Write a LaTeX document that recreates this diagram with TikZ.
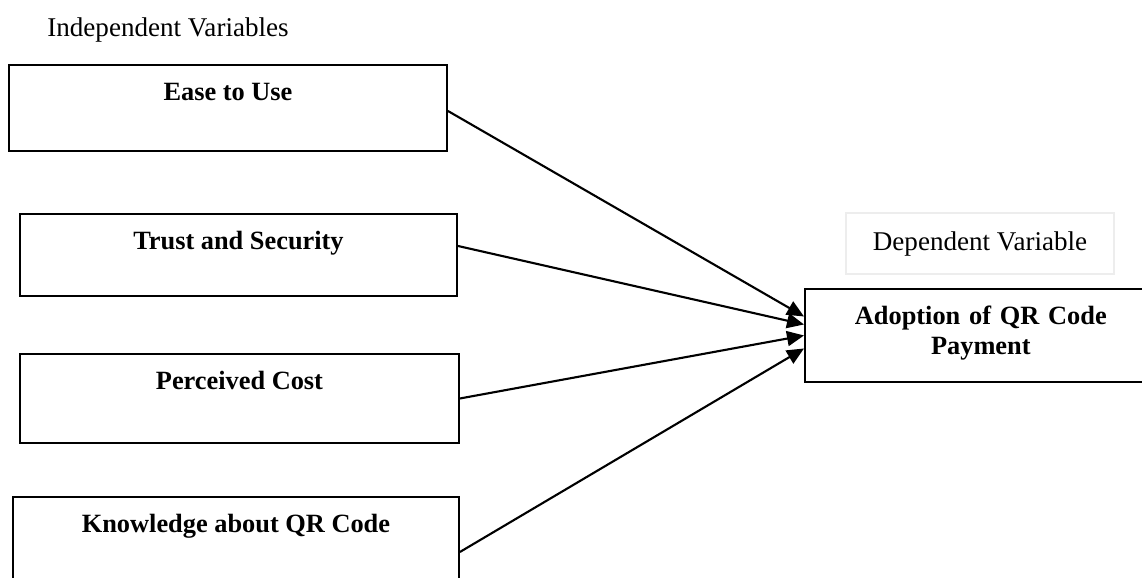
\documentclass[tikz,border=0pt]{standalone}
\usepackage{fontspec}
\setmainfont{Liberation Serif}
\usetikzlibrary{arrows.meta}

\tikzset{
  varbox/.style={draw, line width=1.1pt, anchor=north west, inner ysep=0pt,
    text height=0.72cm, font=\fontsize{15}{17}\selectfont\bfseries},
  lbl/.style={font=\fontsize{15.4}{17}\selectfont},
  link/.style={line width=1.2pt, -{Triangle[length=0.34cm,width=0.3cm]}}
}

\begin{document}
\begin{tikzpicture}
      \useasboundingbox (0,0) rectangle (22.84,-11.54);
      \node[lbl, anchor=base] (indep) at (3.36,-0.72) {Independent Variables};
      \node[varbox, minimum width=8.76cm, text depth=1.0cm] (ease) at (0.16,-1.28) {Ease to Use};
      \node[varbox, minimum width=8.74cm, text depth=0.92cm] (trust) at (0.38,-4.26) {Trust and Security};
      \node[varbox, minimum width=8.78cm, text depth=1.06cm] (cost) at (0.38,-7.06) {Perceived Cost};
      \node[varbox, minimum width=8.92cm, text depth=1.04cm] (know) at (0.24,-9.92) {Knowledge about QR Code};
      \node[lbl, draw=black!7, line width=0.8pt, minimum width=5.36cm, minimum height=1.22cm] (dep) at (19.6,-4.87) {Dependent Variable};
      \node[varbox, text depth=1.14cm, text width=6.8cm, align=center] (adopt) at (16.08,-5.76) {Adoption of QR Code\\Payment};
      \draw[link] ([yshift=-0.06cm]ease.east) -- ([yshift=0.38cm]adopt.west);
      \draw[link] ([yshift=0.18cm]trust.east) -- ([yshift=0.22cm]adopt.west);
      \draw[link] (cost.east) -- (adopt.west);
      \draw[link] ([yshift=-0.22cm]know.east) -- ([yshift=-0.26cm]adopt.west);
\end{tikzpicture}
\end{document}
